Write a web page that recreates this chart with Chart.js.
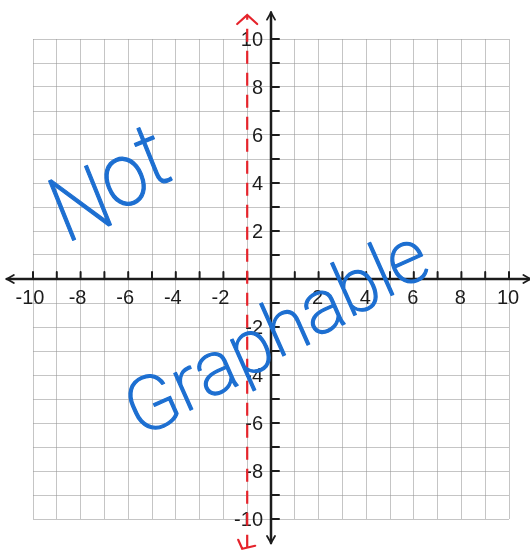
<!DOCTYPE html>
<html>
<head>
<meta charset="utf-8">
<script src="https://cdn.jsdelivr.net/npm/chart.js@4"></script>
<style>
    html, body { margin: 0; padding: 0; background: #ffffff; }
    #wrap { width: 530px; height: 559px; }
</style>
</head>
<body>
<div id="wrap"><canvas id="graph" width="530" height="559"></canvas></div>
<script>
// Valeurs des graduations
const xTickValues = [-10, -8, -6, -4, -2, 2, 4, 6, 8, 10];
const yTickValues = [10, 8, 6, 4, 2, -2, -4, -6, -8, -10];

// Asymptote verticale x = -1 (tracé en pointillés rouges)
const asymptoteX = [-1, -1];
const asymptoteY = [-11.2, 11];

// Mots écrits à la main
const noteWords = ['Not', 'Graphable'];

const AXIS_COLOR = '#1c1c1c';
const RED = '#e5232b';
const BLUE = '#1d6fd1';

// Placement des mots : ligne de base (unités du repère), taille, rotation des lettres
const noteStyles = [
    { from: [-8.5, 1.25], to: [-4.1, 4.3], size: 90, rotate: -22 },
    { from: [-5.5, -6.7], to: [6.8, 0.3], size: 76, rotate: -24 }
];

// Dessine les axes, les petites graduations et les nombres
const axesPlugin = {
    id: 'axes',
    beforeDatasetsDraw(chart) {
        const ctx = chart.ctx;
        const xs = chart.scales.x;
        const ys = chart.scales.y;
        const x0 = xs.getPixelForValue(0);
        const y0 = ys.getPixelForValue(0);
        const top = ys.getPixelForValue(11.1);
        const bottom = ys.getPixelForValue(-11);
        const left = xs.getPixelForValue(-11.1);
        const right = xs.getPixelForValue(10.9);

        ctx.save();
        ctx.strokeStyle = AXIS_COLOR;
        ctx.lineWidth = 2.5;
        ctx.lineCap = 'round';
        ctx.beginPath();
        ctx.moveTo(x0, top);
        ctx.lineTo(x0, bottom);
        ctx.moveTo(left, y0);
        ctx.lineTo(right, y0);
        ctx.stroke();

        // pointes de flèches
        ctx.lineWidth = 1.8;
        ctx.beginPath();
        ctx.moveTo(x0 - 4, top + 7); ctx.lineTo(x0, top); ctx.lineTo(x0 + 4, top + 7);
        ctx.moveTo(x0 - 4, bottom - 7); ctx.lineTo(x0, bottom); ctx.lineTo(x0 + 4, bottom - 7);
        ctx.moveTo(left + 7, y0 - 4); ctx.lineTo(left, y0); ctx.lineTo(left + 7, y0 + 4);
        ctx.moveTo(right - 7, y0 - 4); ctx.lineTo(right, y0); ctx.lineTo(right - 7, y0 + 4);
        ctx.stroke();

        // graduations
        ctx.lineWidth = 2;
        ctx.beginPath();
        for (let v = -10; v <= 10; v++) {
            if (v === 0) continue;
            const px = xs.getPixelForValue(v);
            ctx.moveTo(px, y0);
            ctx.lineTo(px, y0 - 7);
            const py = ys.getPixelForValue(v);
            ctx.moveTo(x0, py);
            ctx.lineTo(x0 + 8, py);
        }
        ctx.stroke();

        // nombres
        ctx.fillStyle = AXIS_COLOR;
        ctx.font = '20px "Liberation Sans Narrow", "Liberation Sans", Arial, sans-serif';
        ctx.textBaseline = 'middle';
        ctx.textAlign = 'center';
        xTickValues.forEach(function(v) {
            ctx.fillText(String(v), xs.getPixelForValue(v) - (v < 0 ? 3 : 1), y0 + 19);
        });
        ctx.textAlign = 'right';
        yTickValues.forEach(function(v) {
            ctx.fillText(String(v), x0 - 8, ys.getPixelForValue(v) + 1);
        });
        ctx.restore();
    },
    afterDatasetsDraw(chart) {
        const ctx = chart.ctx;
        const xs = chart.scales.x;
        const ys = chart.scales.y;

        // flèches rouges aux extrémités de l'asymptote
        const ax = xs.getPixelForValue(asymptoteX[0]);
        const aTop = ys.getPixelForValue(asymptoteY[1]);
        const aBot = ys.getPixelForValue(asymptoteY[0]);
        ctx.save();
        ctx.strokeStyle = RED;
        ctx.lineWidth = 2.2;
        ctx.lineCap = 'round';
        ctx.beginPath();
        ctx.moveTo(ax - 10, aTop + 9); ctx.lineTo(ax, aTop); ctx.lineTo(ax + 10, aTop + 9);
        ctx.moveTo(ax - 9, aBot - 8); ctx.lineTo(ax - 5, aBot + 1); ctx.lineTo(ax + 8, aBot - 2);
        ctx.stroke();
        ctx.restore();

        // texte manuscrit, lettre par lettre le long d'une ligne montante
        noteWords.forEach(function(word, i) {
            drawNote(ctx, xs, ys, word, noteStyles[i]);
        });
    }
};

function drawNote(ctx, xs, ys, text, style) {
    const x1 = xs.getPixelForValue(style.from[0]);
    const y1 = ys.getPixelForValue(style.from[1]);
    const x2 = xs.getPixelForValue(style.to[0]);
    const y2 = ys.getPixelForValue(style.to[1]);
    const len = Math.hypot(x2 - x1, y2 - y1);

    ctx.save();
    ctx.font = '200 ' + style.size + 'px Roboto, "Open Sans", sans-serif';
    ctx.fillStyle = BLUE;
    ctx.strokeStyle = BLUE;
    ctx.lineWidth = 1.2;
    ctx.lineJoin = 'round';
    ctx.textBaseline = 'alphabetic';
    ctx.textAlign = 'center';

    const chars = text.split('');
    const widths = chars.map(function(c) { return ctx.measureText(c).width; });
    const total = widths.reduce(function(a, b) { return a + b; }, 0);
    const k = len / total;

    let acc = 0;
    chars.forEach(function(c, j) {
        const t = (acc + widths[j] / 2) * k / len;
        ctx.save();
        ctx.translate(x1 + t * (x2 - x1), y1 + t * (y2 - y1));
        ctx.rotate(style.rotate * Math.PI / 180);
        ctx.scale(k, 1);
        ctx.fillText(c, 0, 0);
        ctx.strokeText(c, 0, 0);
        ctx.restore();
        acc += widths[j];
    });
    ctx.restore();
}

const gridOptions = {
    color: 'rgba(150, 150, 150, 0.55)',
    lineWidth: 1,
    drawTicks: false
};

new Chart(document.getElementById('graph'), {
    type: 'scatter',
    data: {
        datasets: [{
            data: asymptoteX.map(function(x, i) { return { x: x, y: asymptoteY[i] }; }),
            showLine: true,
            borderColor: RED,
            borderWidth: 2.2,
            borderDash: [13, 9],
            pointRadius: 0,
            clip: false
        }]
    },
    options: {
        responsive: false,
        animation: false,
        layout: { padding: { left: 33, right: 21, top: 39, bottom: 40 } },
        plugins: {
            legend: { display: false },
            tooltip: { enabled: false }
        },
        scales: {
            x: {
                type: 'linear', min: -10, max: 10,
                ticks: { display: false, stepSize: 1 },
                grid: gridOptions,
                border: { display: false }
            },
            y: {
                type: 'linear', min: -10, max: 10,
                ticks: { display: false, stepSize: 1 },
                grid: gridOptions,
                border: { display: false }
            }
        }
    },
    plugins: [axesPlugin]
});
</script>
</body>
</html>
